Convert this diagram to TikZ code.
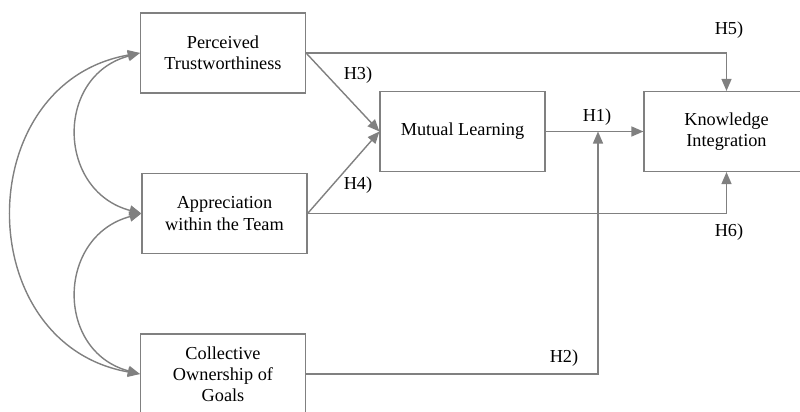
\documentclass[tikz,border=0pt]{standalone}
\usepackage{fontspec}
\setmainfont{Liberation Serif}
\usepackage{tikz}
\usetikzlibrary{positioning,calc,arrows.meta}
\definecolor{modelgray}{RGB}{128,128,128}
\tikzset{
    model box/.style={
        rectangle,
        minimum width=4.125cm,
        minimum height=2cm,
        draw=modelgray,
        line width=0.8pt,
        fill=white,
        inner sep=2pt,
        align=center,
        font=\fontsize{13}{15}\selectfont,
    },
    hyp label/.style={font=\fontsize{13}{15}\selectfont, text=black, inner sep=0pt},
    hyp arrow/.style={draw=modelgray, line width=1pt, -{Triangle[length=0.3cm,width=0.25cm]}},
    corr arrow/.style={draw=modelgray, line width=1pt, {Triangle[length=0.3cm,width=0.25cm]}-{Triangle[length=0.3cm,width=0.25cm]}},
}

\begin{document}
\begin{tikzpicture}[x=0.025cm, y=-0.025cm]
    \useasboundingbox (0,0) rectangle (800,412);

    %Constructs
    \node[model box] (pt) at (223,53) {Perceived\\Trustworthiness};
    \node[model box] (aw) at (224.5,213.5) {Appreciation\\within the Team};
    \node[model box] (co) at (223,374) {Collective\\Ownership of\\Goals};
    \node[model box] (ml) at (462.5,131.5) {Mutual Learning};
    \node[model box] (ki) at (726.5,131.5) {Knowledge\\Integration};

    \coordinate (join) at (598,131.5);

    %Hypotheses
    \draw[hyp arrow] (ml.east) -- (ki.west);
    \draw[hyp arrow] (co.east) -- (co.east -| join) -- (join);
    \draw[hyp arrow] (pt.east) -- (ml.west);
    \draw[hyp arrow] (aw.east) -- (ml.west);
    \draw[hyp arrow] (pt.east) -- (pt.east -| ki.north) -- (ki.north);
    \draw[hyp arrow] (aw.east) -- (aw.east -| ki.south) -- (ki.south);

    \node[hyp label] (h1) at (597,117) {H1)};
    \node[hyp label] (h2) at (564,358) {H2)};
    \node[hyp label] (h3) at (358,75) {H3)};
    \node[hyp label] (h4) at (358,185) {H4)};
    \node[hyp label] (h5) at (729,30) {H5)};
    \node[hyp label] (h6) at (729,232) {H6)};

    %Correlations
    \draw[corr arrow] (pt.west) to[out=195, in=165, looseness=1.4] (aw.west);
    \draw[corr arrow] (aw.west) to[out=195, in=165, looseness=1.4] (co.west);
    \draw[corr arrow] (pt.west) to[out=190, in=170, looseness=1.38] (co.west);
\end{tikzpicture}
\end{document}
